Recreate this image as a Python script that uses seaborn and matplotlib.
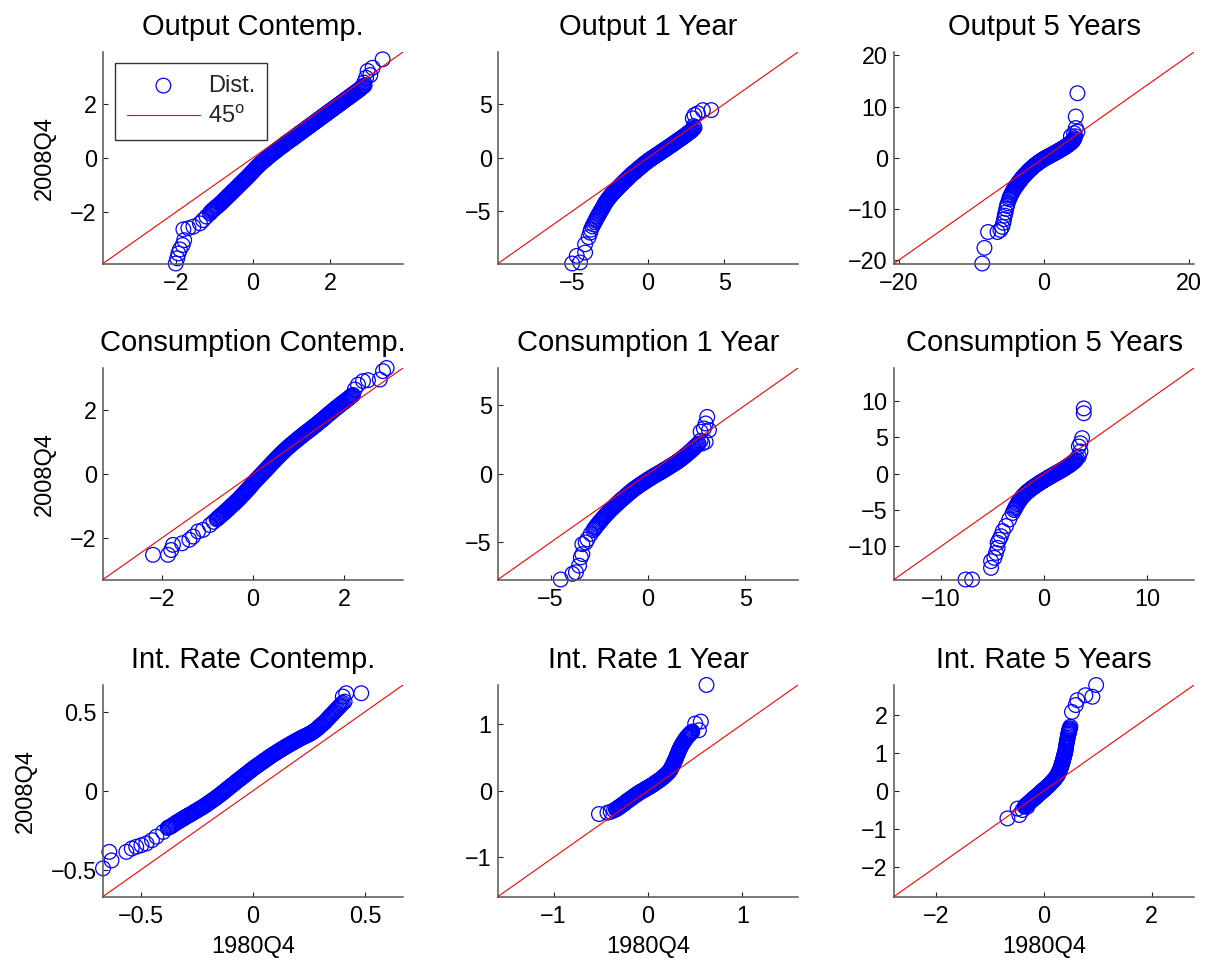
import matplotlib
matplotlib.use("Agg")
import matplotlib.pyplot as plt
import numpy as np
import pandas as pd
import seaborn as sns
from matplotlib.ticker import FuncFormatter, FixedLocator

sns.set_theme(style="white")
plt.rcParams["font.family"] = ["Liberation Sans", "DejaVu Sans"]
plt.rcParams["mathtext.fontset"] = "custom"
plt.rcParams["mathtext.rm"] = "Liberation Sans"
plt.rcParams["axes.unicode_minus"] = True

titles = ["Output Contemp.", "Output 1 Year", "Output 5 Years",
          "Consumption Contemp.", "Consumption 1 Year", "Consumption 5 Years",
          "Int. Rate Contemp.", "Int. Rate 1 Year", "Int. Rate 5 Years"]
x_label = "1980Q4"
y_label = "2008Q4"

# ---- Output, contemporaneous: quantiles of 1980Q4 (x) vs 2008Q4 (y) ----
out_c_x = [-2.01, -1.97, -1.94, -1.9, -1.83, -1.79, -1.81, -1.68, -1.55, -1.38, -1.3, -1.21, -1.12,
           -1.100, -1.075, -1.050, -1.025, -1.000, -0.975, -0.950, -0.925, -0.900, -0.875, -0.850, -0.825,
           -0.800, -0.775, -0.750, -0.725, -0.700, -0.675, -0.650, -0.625, -0.600, -0.575, -0.550, -0.525,
           -0.500, -0.475, -0.450, -0.425, -0.400, -0.375, -0.350, -0.325, -0.300, -0.275, -0.250, -0.225,
           -0.200, -0.175, -0.150, -0.125, -0.100, -0.075, -0.050, -0.025, 0.000, 0.025, 0.050, 0.075,
           0.100, 0.125, 0.150, 0.175, 0.200, 0.225, 0.250, 0.275, 0.300, 0.325, 0.350, 0.375,
           0.400, 0.425, 0.450, 0.475, 0.500, 0.525, 0.550, 0.575, 0.600, 0.625, 0.650, 0.675,
           0.700, 0.725, 0.750, 0.775, 0.800, 0.825, 0.850, 0.875, 0.900, 0.925, 0.950, 0.975,
           1.000, 1.025, 1.050, 1.075, 1.100, 1.125, 1.150, 1.175, 1.200, 1.225, 1.250, 1.275,
           1.300, 1.325, 1.350, 1.375, 1.400, 1.425, 1.450, 1.475, 1.500, 1.525, 1.550, 1.575,
           1.600, 1.625, 1.650, 1.675, 1.700, 1.725, 1.750, 1.775, 1.800, 1.825, 1.850, 1.875,
           1.900, 1.925, 1.950, 1.975, 2.000, 2.025, 2.050, 2.075, 2.100, 2.125, 2.150, 2.175,
           2.200, 2.225, 2.250, 2.275, 2.300, 2.325, 2.350, 2.375, 2.400, 2.425, 2.450, 2.475,
           2.500, 2.525, 2.550, 2.575, 2.600, 2.625, 2.650, 2.675, 2.700, 2.725, 2.750, 2.775,
           2.800, 2.825, 2.850, 2.875, 2.900,
           2.89, 2.94, 3.05, 2.98, 3.11, 3.37]
out_c_y = [-3.9, -3.71, -3.53, -3.38, -3.22, -3.04, -2.64, -2.6, -2.54, -2.42, -2.3, -2.17, -2.05,
           -2.000, -1.965, -1.930, -1.905, -1.880, -1.845, -1.810, -1.785, -1.760, -1.725, -1.690, -1.660,
           -1.630, -1.595, -1.560, -1.525, -1.490, -1.455, -1.420, -1.385, -1.350, -1.315, -1.280, -1.245,
           -1.210, -1.175, -1.140, -1.105, -1.070, -1.035, -1.000, -0.965, -0.930, -0.895, -0.860, -0.825,
           -0.790, -0.755, -0.720, -0.685, -0.650, -0.610, -0.570, -0.535, -0.500, -0.460, -0.420, -0.385,
           -0.350, -0.315, -0.280, -0.245, -0.210, -0.180, -0.150, -0.120, -0.090, -0.060, -0.030, 0.000,
           0.030, 0.060, 0.090, 0.120, 0.150, 0.175, 0.200, 0.230, 0.260, 0.285, 0.310, 0.340,
           0.370, 0.395, 0.420, 0.445, 0.470, 0.500, 0.530, 0.555, 0.580, 0.605, 0.630, 0.655,
           0.680, 0.706, 0.732, 0.758, 0.784, 0.810, 0.836, 0.862, 0.888, 0.914, 0.940, 0.966,
           0.992, 1.018, 1.044, 1.070, 1.096, 1.122, 1.148, 1.174, 1.200, 1.226, 1.252, 1.278,
           1.304, 1.330, 1.356, 1.382, 1.408, 1.434, 1.460, 1.486, 1.512, 1.538, 1.564, 1.590,
           1.616, 1.642, 1.668, 1.694, 1.720, 1.746, 1.772, 1.798, 1.824, 1.850, 1.876, 1.902,
           1.928, 1.954, 1.980, 2.006, 2.032, 2.058, 2.084, 2.110, 2.136, 2.162, 2.188, 2.214,
           2.240, 2.266, 2.292, 2.318, 2.344, 2.370, 2.396, 2.422, 2.448, 2.474, 2.500, 2.530,
           2.560, 2.590, 2.620, 2.645, 2.670,
           2.77, 2.95, 3.05, 3.2, 3.32, 3.63]

# ---- Output, 1 year ----
out_1_x = [-4.98, -4.46, -4.68, -4.13, -4.13, -3.9, -3.8, -3.75, -3.65, -3.58,
           -3.50, -3.45, -3.40, -3.35, -3.30, -3.25, -3.20, -3.15, -3.10, -3.05, -3.00, -2.95,
           -2.90, -2.85, -2.80, -2.75, -2.70, -2.65, -2.60, -2.55, -2.50, -2.45, -2.40, -2.35,
           -2.30, -2.25, -2.20, -2.15, -2.10, -2.05, -2.00, -1.95, -1.90, -1.85, -1.80, -1.75,
           -1.70, -1.65, -1.60, -1.55, -1.50, -1.45, -1.40, -1.35, -1.30, -1.25, -1.20, -1.15,
           -1.10, -1.05, -1.00, -0.95, -0.90, -0.85, -0.80, -0.75, -0.70, -0.65, -0.60, -0.55,
           -0.50, -0.45, -0.40, -0.35, -0.30, -0.25, -0.20, -0.15, -0.10, -0.05, 0.00, 0.05,
           0.10, 0.15, 0.20, 0.25, 0.30, 0.35, 0.40, 0.45, 0.50, 0.55, 0.60, 0.65,
           0.70, 0.75, 0.80, 0.85, 0.90, 0.95, 1.00, 1.05, 1.10, 1.15, 1.20, 1.25,
           1.30, 1.35, 1.40, 1.45, 1.50, 1.55, 1.60, 1.65, 1.70, 1.75, 1.80, 1.85,
           1.90, 1.95, 2.00, 2.05, 2.10, 2.15, 2.20, 2.25, 2.30, 2.35, 2.40, 2.45,
           2.50, 2.55, 2.60, 2.65, 2.70, 2.75, 2.80, 2.85, 2.90,
           2.95, 3.05, 3.0, 2.94, 3.05, 3.27, 3.6, 4.15]
out_1_y = [-9.85, -9.75, -9.14, -8.83, -8.06, -7.4, -6.98, -6.7, -6.4, -6.2,
           -6.000, -5.850, -5.700, -5.575, -5.450, -5.325, -5.200, -5.075, -4.950, -4.835, -4.720, -4.585,
           -4.450, -4.325, -4.200, -4.100, -4.000, -3.900, -3.800, -3.710, -3.620, -3.535, -3.450, -3.375,
           -3.300, -3.225, -3.150, -3.075, -3.000, -2.925, -2.850, -2.775, -2.700, -2.630, -2.560, -2.490,
           -2.420, -2.350, -2.280, -2.210, -2.140, -2.070, -2.000, -1.930, -1.860, -1.795, -1.730, -1.665,
           -1.600, -1.535, -1.470, -1.410, -1.350, -1.290, -1.230, -1.170, -1.110, -1.050, -0.990, -0.930,
           -0.870, -0.810, -0.750, -0.690, -0.630, -0.575, -0.520, -0.465, -0.410, -0.355, -0.300, -0.250,
           -0.200, -0.150, -0.100, -0.050, 0.000, 0.045, 0.090, 0.140, 0.190, 0.235, 0.280, 0.330,
           0.380, 0.425, 0.470, 0.520, 0.570, 0.615, 0.660, 0.710, 0.760, 0.810, 0.860, 0.905,
           0.950, 1.000, 1.050, 1.095, 1.140, 1.190, 1.240, 1.290, 1.340, 1.390, 1.440, 1.490,
           1.540, 1.590, 1.640, 1.690, 1.740, 1.790, 1.840, 1.890, 1.940, 1.990, 2.040, 2.095,
           2.150, 2.205, 2.260, 2.310, 2.360, 2.415, 2.470, 2.525, 2.580,
           2.7, 2.8, 2.95, 3.67, 3.98, 4.14, 4.44, 4.44]

# ---- Output, 5 years ----
out_5_x = [-8.5, -8.2, -7.7, -6.4, -6.0, -5.75, -5.6, -5.5, -5.4, -5.3, -5.2, -5.1, -5.0,
           -4.8, -4.7, -4.6, -4.5, -4.4, -4.3, -4.2, -4.1, -4.0, -3.9, -3.8, -3.7, -3.6, -3.5,
           -3.4, -3.3, -3.2, -3.1, -3.0, -2.9, -2.8, -2.7, -2.6, -2.5, -2.4, -2.3, -2.2, -2.1,
           -2.0, -1.9, -1.8, -1.7, -1.6, -1.5, -1.4, -1.3, -1.2, -1.1, -1.0, -0.9, -0.8, -0.7,
           -0.6, -0.5, -0.4, -0.3, -0.2, -0.1, 0.0, 0.1, 0.2, 0.3, 0.4, 0.5, 0.6, 0.7, 0.8, 0.9,
           1.0, 1.1, 1.2, 1.3, 1.4, 1.5, 1.6, 1.7, 1.8, 1.9, 2.0, 2.1, 2.2, 2.3, 2.4, 2.5, 2.6,
           2.7, 2.8, 2.9, 3.0, 3.1, 3.2, 3.3, 3.4, 3.5, 3.6, 3.7, 3.8, 3.9, 4.0, 4.1, 4.2,
           4.3, 3.7, 4.14, 4.6, 4.37, 4.37, 4.6]
out_5_y = [-20.65, -17.6, -14.5, -14.5, -14.1, -13.5, -12.7, -12.0, -11.3, -10.7, -10.0, -9.4, -8.9,
           -8.100, -7.750, -7.400, -7.100, -6.800, -6.550, -6.300, -6.075, -5.850, -5.650, -5.450, -5.250,
           -5.050, -4.850, -4.650, -4.475, -4.300, -4.125, -3.950, -3.775, -3.600, -3.450, -3.300, -3.150,
           -3.000, -2.850, -2.700, -2.560, -2.420, -2.285, -2.150, -2.025, -1.900, -1.775, -1.650, -1.535,
           -1.420, -1.310, -1.200, -1.090, -0.980, -0.880, -0.780, -0.680, -0.580, -0.490, -0.400, -0.310,
           -0.220, -0.140, -0.060, 0.015, 0.090, 0.165, 0.240, 0.320, 0.400, 0.475, 0.550, 0.625,
           0.700, 0.775, 0.850, 0.930, 1.010, 1.090, 1.170, 1.250, 1.330, 1.415, 1.500, 1.585,
           1.670, 1.755, 1.840, 1.930, 2.020, 2.110, 2.200, 2.300, 2.400, 2.505, 2.610, 2.720,
           2.830, 2.945, 3.060, 3.200, 3.350, 3.570, 3.800,
           4.2, 4.2, 4.8, 5.1, 5.8, 8.05, 12.6]

# ---- Consumption, contemporaneous ----
con_c_x = [-2.2, -1.87, -1.8, -1.76, -1.56, -1.4, -1.32, -1.21, -1.1, -0.95, -0.87,
           -0.80, -0.78, -0.76, -0.74, -0.72, -0.70, -0.68, -0.66, -0.64, -0.62, -0.60, -0.58,
           -0.56, -0.54, -0.52, -0.50, -0.48, -0.46, -0.44, -0.42, -0.40, -0.38, -0.36, -0.34,
           -0.32, -0.30, -0.28, -0.26, -0.24, -0.22, -0.20, -0.18, -0.16, -0.14, -0.12, -0.10,
           -0.08, -0.06, -0.04, -0.02, 0.00, 0.02, 0.04, 0.06, 0.08, 0.10, 0.12, 0.14,
           0.16, 0.18, 0.20, 0.22, 0.24, 0.26, 0.28, 0.30, 0.32, 0.34, 0.36, 0.38,
           0.40, 0.42, 0.44, 0.46, 0.48, 0.50, 0.52, 0.54, 0.56, 0.58, 0.60, 0.62,
           0.64, 0.66, 0.68, 0.70, 0.72, 0.74, 0.76, 0.78, 0.80, 0.82, 0.84, 0.86,
           0.88, 0.90, 0.92, 0.94, 0.96, 0.98, 1.00, 1.02, 1.04, 1.06, 1.08, 1.10,
           1.12, 1.14, 1.16, 1.18, 1.20, 1.22, 1.24, 1.26, 1.28, 1.30, 1.32, 1.34,
           1.36, 1.38, 1.40, 1.42, 1.44, 1.46, 1.48, 1.50, 1.52, 1.54, 1.56, 1.58,
           1.60, 1.62, 1.64, 1.66, 1.68, 1.70, 1.72, 1.74, 1.76, 1.78, 1.80, 1.82,
           1.84, 1.86, 1.88, 1.90, 1.92, 1.94, 1.96, 1.98, 2.00, 2.02, 2.04, 2.06,
           2.08, 2.10, 2.12, 2.14, 2.16, 2.18, 2.20,
           2.24, 2.31, 2.42, 2.53, 2.79, 2.86, 2.94]
con_c_y = [-2.53, -2.53, -2.38, -2.22, -2.17, -2.06, -1.96, -1.8, -1.75, -1.6, -1.5,
           -1.420, -1.395, -1.370, -1.345, -1.320, -1.295, -1.270, -1.245, -1.220, -1.195, -1.170, -1.145,
           -1.120, -1.095, -1.070, -1.040, -1.010, -0.985, -0.960, -0.935, -0.910, -0.880, -0.850, -0.825,
           -0.800, -0.770, -0.740, -0.710, -0.680, -0.650, -0.620, -0.590, -0.560, -0.530, -0.500, -0.470,
           -0.440, -0.405, -0.370, -0.335, -0.300, -0.270, -0.240, -0.210, -0.180, -0.150, -0.120, -0.090,
           -0.060, -0.030, 0.000, 0.030, 0.060, 0.090, 0.120, 0.150, 0.180, 0.210, 0.240, 0.270,
           0.300, 0.330, 0.360, 0.390, 0.420, 0.450, 0.480, 0.510, 0.540, 0.570, 0.600, 0.625,
           0.650, 0.675, 0.700, 0.730, 0.760, 0.785, 0.810, 0.835, 0.860, 0.885, 0.910, 0.935,
           0.960, 0.980, 1.000, 1.025, 1.050, 1.075, 1.100, 1.120, 1.140, 1.165, 1.190, 1.210,
           1.230, 1.255, 1.280, 1.300, 1.320, 1.340, 1.360, 1.385, 1.410, 1.430, 1.450, 1.475,
           1.500, 1.520, 1.540, 1.565, 1.590, 1.615, 1.640, 1.660, 1.680, 1.705, 1.730, 1.755,
           1.780, 1.805, 1.830, 1.855, 1.880, 1.900, 1.920, 1.945, 1.970, 1.995, 2.020, 2.040,
           2.060, 2.085, 2.110, 2.130, 2.150, 2.175, 2.200, 2.220, 2.240, 2.260, 2.280, 2.305,
           2.330, 2.350, 2.370, 2.395, 2.420, 2.440, 2.460,
           2.63, 2.78, 2.89, 2.92, 2.94, 3.2, 3.3]

# ---- Consumption, 1 year ----
con_1_x = [-4.48, -3.88, -3.7, -3.54, -3.45, -3.37, -3.37, -3.2, -3.11, -2.94,
           -2.80, -2.75, -2.70, -2.65, -2.60, -2.55, -2.50, -2.45, -2.40, -2.35, -2.30, -2.25,
           -2.20, -2.15, -2.10, -2.05, -2.00, -1.95, -1.90, -1.85, -1.80, -1.75, -1.70, -1.65,
           -1.60, -1.55, -1.50, -1.45, -1.40, -1.35, -1.30, -1.25, -1.20, -1.15, -1.10, -1.05,
           -1.00, -0.95, -0.90, -0.85, -0.80, -0.75, -0.70, -0.65, -0.60, -0.55, -0.50, -0.45,
           -0.40, -0.35, -0.30, -0.25, -0.20, -0.15, -0.10, -0.05, 0.00, 0.05, 0.10, 0.15,
           0.20, 0.25, 0.30, 0.35, 0.40, 0.45, 0.50, 0.55, 0.60, 0.65, 0.70, 0.75,
           0.80, 0.85, 0.90, 0.95, 1.00, 1.05, 1.10, 1.15, 1.20, 1.25, 1.30, 1.35,
           1.40, 1.45, 1.50, 1.55, 1.60, 1.65, 1.70, 1.75, 1.80, 1.85, 1.90, 1.95,
           2.00, 2.05, 2.10, 2.15, 2.20, 2.25, 2.30, 2.35, 2.40, 2.45, 2.50, 2.55, 2.60,
           2.7, 2.79, 2.96, 2.7, 2.87, 3.13, 2.96, 3.04]
con_1_y = [-7.7, -7.29, -7.17, -6.69, -6.09, -5.85, -5.13, -5.0, -4.77, -4.38,
           -4.100, -4.000, -3.900, -3.810, -3.720, -3.635, -3.550, -3.465, -3.380, -3.300, -3.220, -3.135,
           -3.050, -2.975, -2.900, -2.825, -2.750, -2.675, -2.600, -2.535, -2.470, -2.400, -2.330, -2.265,
           -2.200, -2.135, -2.070, -2.005, -1.940, -1.880, -1.820, -1.760, -1.700, -1.635, -1.570, -1.510,
           -1.450, -1.390, -1.330, -1.270, -1.210, -1.155, -1.100, -1.050, -1.000, -0.950, -0.900, -0.850,
           -0.800, -0.755, -0.710, -0.660, -0.610, -0.565, -0.520, -0.475, -0.430, -0.385, -0.340, -0.295,
           -0.250, -0.205, -0.160, -0.120, -0.080, -0.040, 0.000, 0.040, 0.080, 0.120, 0.160, 0.205,
           0.250, 0.295, 0.340, 0.380, 0.420, 0.465, 0.510, 0.555, 0.600, 0.645, 0.690, 0.735,
           0.780, 0.825, 0.870, 0.920, 0.970, 1.025, 1.080, 1.135, 1.190, 1.250, 1.310, 1.365,
           1.420, 1.480, 1.540, 1.605, 1.670, 1.735, 1.800, 1.870, 1.940, 2.005, 2.070, 2.135, 2.200,
           2.4, 2.21, 2.33, 3.06, 3.3, 3.18, 3.66, 4.14]

# ---- Consumption, 5 years ----
con_5_x = [-7.62, -6.98, -5.14, -5.14, -4.82, -4.66, -4.5, -4.5, -4.34, -4.18, -4.0, -3.7, -3.38, -3.05,
           -2.900, -2.825, -2.750, -2.675, -2.600, -2.525, -2.450, -2.375, -2.300, -2.225, -2.150, -2.075,
           -2.000, -1.925, -1.850, -1.775, -1.700, -1.625, -1.550, -1.475, -1.400, -1.325, -1.250, -1.175,
           -1.100, -1.025, -0.950, -0.875, -0.800, -0.725, -0.650, -0.575, -0.500, -0.425, -0.350, -0.275,
           -0.200, -0.125, -0.050, 0.025, 0.100, 0.175, 0.250, 0.325, 0.400, 0.475, 0.550, 0.625,
           0.700, 0.775, 0.850, 0.925, 1.000, 1.075, 1.150, 1.225, 1.300, 1.375, 1.450, 1.525,
           1.600, 1.675, 1.750, 1.825, 1.900, 1.975, 2.050, 2.125, 2.200, 2.275, 2.350, 2.425,
           2.500, 2.575, 2.650, 2.725, 2.800, 2.875, 2.950, 3.025, 3.100,
           3.2, 3.38, 3.54, 3.38, 3.54, 3.7, 3.86, 3.86]
con_5_y = [-14.56, -14.56, -12.96, -12.04, -11.58, -10.9, -10.2, -9.5, -9.07, -8.6, -7.9, -7.2, -6.3, -5.4,
           -5.000, -4.800, -4.600, -4.400, -4.200, -4.025, -3.850, -3.700, -3.550, -3.415, -3.280, -3.155,
           -3.030, -2.915, -2.800, -2.700, -2.600, -2.510, -2.420, -2.335, -2.250, -2.165, -2.080, -2.000,
           -1.920, -1.845, -1.770, -1.695, -1.620, -1.550, -1.480, -1.410, -1.340, -1.270, -1.200, -1.135,
           -1.070, -1.005, -0.940, -0.875, -0.810, -0.745, -0.680, -0.620, -0.560, -0.495, -0.430, -0.370,
           -0.310, -0.250, -0.190, -0.130, -0.070, -0.010, 0.050, 0.110, 0.170, 0.230, 0.290, 0.350,
           0.410, 0.475, 0.540, 0.605, 0.670, 0.735, 0.800, 0.870, 0.940, 1.010, 1.080, 1.150,
           1.220, 1.295, 1.370, 1.455, 1.540, 1.630, 1.720, 1.820, 1.920,
           2.15, 2.38, 3.07, 3.75, 4.2, 4.9, 8.33, 9.0]

# ---- Interest rate, contemporaneous ----
int_c_x = [-0.668, -0.63, -0.64, -0.564, -0.54, -0.52, -0.497, -0.475, -0.45, -0.43, -0.4,
           -0.380, -0.375, -0.370, -0.365, -0.360, -0.355, -0.350, -0.345, -0.340, -0.335, -0.330, -0.325,
           -0.320, -0.315, -0.310, -0.305, -0.300, -0.295, -0.290, -0.285, -0.280, -0.275, -0.270, -0.265,
           -0.260, -0.255, -0.250, -0.245, -0.240, -0.235, -0.230, -0.225, -0.220, -0.215, -0.210, -0.205,
           -0.200, -0.195, -0.190, -0.185, -0.180, -0.175, -0.170, -0.165, -0.160, -0.155, -0.150, -0.145,
           -0.140, -0.135, -0.130, -0.125, -0.120, -0.115, -0.110, -0.105, -0.100, -0.095, -0.090, -0.085,
           -0.080, -0.075, -0.070, -0.065, -0.060, -0.055, -0.050, -0.045, -0.040, -0.035, -0.030, -0.025,
           -0.020, -0.015, -0.010, -0.005, 0.000, 0.005, 0.010, 0.015, 0.020, 0.025, 0.030, 0.035,
           0.040, 0.045, 0.050, 0.055, 0.060, 0.065, 0.070, 0.075, 0.080, 0.085, 0.090, 0.095,
           0.100, 0.105, 0.110, 0.115, 0.120, 0.125, 0.130, 0.135, 0.140, 0.145, 0.150, 0.155,
           0.160, 0.165, 0.170, 0.175, 0.180, 0.185, 0.190, 0.195, 0.200, 0.205, 0.210, 0.215,
           0.220, 0.225, 0.230, 0.235, 0.240, 0.245, 0.250, 0.255, 0.260, 0.265, 0.270, 0.275,
           0.280, 0.285, 0.290, 0.295, 0.300, 0.305, 0.310, 0.315, 0.320, 0.325, 0.330, 0.335,
           0.340, 0.345, 0.350, 0.355, 0.360, 0.365, 0.370, 0.375, 0.380, 0.385, 0.390, 0.395, 0.400,
           0.408, 0.4, 0.415, 0.482]
int_c_y = [-0.49, -0.44, -0.386, -0.386, -0.365, -0.354, -0.344, -0.333, -0.312, -0.29, -0.26,
           -0.2350, -0.2315, -0.2280, -0.2240, -0.2200, -0.2150, -0.2100, -0.2050, -0.2000, -0.1960, -0.1920, -0.1875,
           -0.1830, -0.1790, -0.1750, -0.1705, -0.1660, -0.1620, -0.1580, -0.1540, -0.1500, -0.1460, -0.1420, -0.1375,
           -0.1330, -0.1290, -0.1250, -0.1205, -0.1160, -0.1120, -0.1080, -0.1035, -0.0990, -0.0945, -0.0900, -0.0850,
           -0.0800, -0.0750, -0.0700, -0.0650, -0.0600, -0.0550, -0.0500, -0.0450, -0.0400, -0.0345, -0.0290, -0.0235,
           -0.0180, -0.0125, -0.0070, -0.0010, 0.0050, 0.0105, 0.0160, 0.0220, 0.0280, 0.0335, 0.0390, 0.0445,
           0.0500, 0.0560, 0.0620, 0.0675, 0.0730, 0.0785, 0.0840, 0.0895, 0.0950, 0.1005, 0.1060, 0.1115,
           0.1170, 0.1225, 0.1280, 0.1340, 0.1400, 0.1450, 0.1500, 0.1550, 0.1600, 0.1650, 0.1700, 0.1750,
           0.1800, 0.1850, 0.1900, 0.1950, 0.2000, 0.2050, 0.2100, 0.2150, 0.2200, 0.2245, 0.2290, 0.2335,
           0.2380, 0.2425, 0.2470, 0.2515, 0.2560, 0.2605, 0.2650, 0.2690, 0.2730, 0.2775, 0.2820, 0.2860,
           0.2900, 0.2940, 0.2980, 0.3020, 0.3060, 0.3100, 0.3140, 0.3180, 0.3220, 0.3260, 0.3300, 0.3335,
           0.3370, 0.3405, 0.3440, 0.3470, 0.3500, 0.3540, 0.3580, 0.3615, 0.3650, 0.3700, 0.3750, 0.3800,
           0.3850, 0.3910, 0.3970, 0.4035, 0.4100, 0.4160, 0.4220, 0.4285, 0.4350, 0.4425, 0.4500, 0.4575,
           0.4650, 0.4725, 0.4800, 0.4875, 0.4950, 0.5025, 0.5100, 0.5175, 0.5250, 0.5325, 0.5400, 0.5475, 0.5550,
           0.563, 0.595, 0.616, 0.616]

# ---- Interest rate, 1 year ----
int_1_x = [-0.52, -0.43, -0.395, -0.36,
           -0.3400, -0.3325, -0.3250, -0.3175, -0.3100, -0.3025, -0.2950, -0.2875, -0.2800, -0.2725,
           -0.2650, -0.2575, -0.2500, -0.2425, -0.2350, -0.2275, -0.2200, -0.2125, -0.2050, -0.1975,
           -0.1900, -0.1825, -0.1750, -0.1675, -0.1600, -0.1525, -0.1450, -0.1375, -0.1300, -0.1225,
           -0.1150, -0.1075, -0.1000, -0.0925, -0.0850, -0.0775, -0.0700, -0.0625, -0.0550, -0.0475,
           -0.0400, -0.0325, -0.0250, -0.0175, -0.0100, -0.0025, 0.0050, 0.0125, 0.0200, 0.0275,
           0.0350, 0.0425, 0.0500, 0.0575, 0.0650, 0.0725, 0.0800, 0.0875, 0.0950, 0.1025,
           0.1100, 0.1175, 0.1250, 0.1325, 0.1400, 0.1475, 0.1550, 0.1625, 0.1700, 0.1775,
           0.1850, 0.1925, 0.2000, 0.2075, 0.2150, 0.2225, 0.2300, 0.2350, 0.2400, 0.2450,
           0.2500, 0.2550, 0.2600, 0.2650, 0.2700, 0.2750, 0.2800, 0.2850, 0.2900, 0.2950,
           0.3000, 0.3050, 0.3100, 0.3150, 0.3200, 0.3250, 0.3300, 0.3350, 0.3400, 0.3450,
           0.3500, 0.3575, 0.3650, 0.3725, 0.3800, 0.3875, 0.3950, 0.4025, 0.4100, 0.4175,
           0.4250, 0.4325, 0.4400, 0.4475, 0.4550, 0.4625, 0.4700,
           0.5, 0.56, 0.54, 0.62]
int_1_y = [-0.35, -0.33, -0.316, -0.295,
           -0.2800, -0.2725, -0.2650, -0.2575, -0.2500, -0.2425, -0.2350, -0.2275, -0.2200, -0.2125,
           -0.2050, -0.1975, -0.1900, -0.1810, -0.1720, -0.1635, -0.1550, -0.1475, -0.1400, -0.1325,
           -0.1250, -0.1175, -0.1100, -0.1025, -0.0950, -0.0875, -0.0800, -0.0725, -0.0650, -0.0575,
           -0.0500, -0.0425, -0.0350, -0.0285, -0.0220, -0.0160, -0.0100, -0.0040, 0.0020, 0.0085,
           0.0150, 0.0215, 0.0280, 0.0340, 0.0400, 0.0460, 0.0520, 0.0585, 0.0650, 0.0715,
           0.0780, 0.0840, 0.0900, 0.0975, 0.1050, 0.1125, 0.1200, 0.1275, 0.1350, 0.1425,
           0.1500, 0.1575, 0.1650, 0.1725, 0.1800, 0.1885, 0.1970, 0.2060, 0.2150, 0.2250,
           0.2350, 0.2450, 0.2550, 0.2660, 0.2770, 0.2885, 0.3000, 0.3125, 0.3250, 0.3375,
           0.3500, 0.3650, 0.3800, 0.3950, 0.4100, 0.4250, 0.4400, 0.4550, 0.4700, 0.4875,
           0.5050, 0.5225, 0.5400, 0.5575, 0.5750, 0.5925, 0.6100, 0.6250, 0.6400, 0.6550,
           0.6700, 0.6875, 0.7050, 0.7225, 0.7400, 0.7550, 0.7700, 0.7850, 0.8000, 0.8125,
           0.8250, 0.8375, 0.8500, 0.8600, 0.8700, 0.8800, 0.8900,
           1.01, 1.04, 0.91, 1.59]

# ---- Interest rate, 5 years ----
int_5_x = [-0.68, -0.46, -0.49, -0.4, -0.31,
           -0.36, -0.35, -0.34, -0.33, -0.32, -0.31, -0.30, -0.29, -0.28, -0.27, -0.26, -0.25,
           -0.24, -0.23, -0.22, -0.21, -0.20, -0.19, -0.18, -0.17, -0.16, -0.15, -0.14, -0.13,
           -0.12, -0.11, -0.10, -0.09, -0.08, -0.07, -0.06, -0.05, -0.04, -0.03, -0.02, -0.01,
           0.00, 0.01, 0.02, 0.03, 0.04, 0.05, 0.06, 0.07, 0.08, 0.09, 0.10, 0.11,
           0.12, 0.13, 0.14, 0.15, 0.16, 0.17, 0.18, 0.19, 0.20, 0.21, 0.22, 0.23,
           0.24, 0.245, 0.25, 0.255, 0.26, 0.265, 0.27, 0.275, 0.28, 0.285, 0.29, 0.295,
           0.30, 0.305, 0.31, 0.315, 0.32, 0.325, 0.33, 0.335, 0.34, 0.345, 0.35, 0.355,
           0.36, 0.365, 0.37, 0.375, 0.38, 0.385, 0.39, 0.395, 0.40, 0.405, 0.41, 0.415,
           0.42, 0.425, 0.43, 0.435, 0.44, 0.445, 0.45, 0.455, 0.46, 0.465, 0.47, 0.475, 0.48,
           0.46, 0.49, 0.52, 0.59, 0.62, 0.77, 0.9, 0.97]
int_5_y = [-0.73, -0.64, -0.47, -0.51, -0.42,
           -0.4200, -0.4075, -0.3950, -0.3825, -0.3700, -0.3575, -0.3450, -0.3325, -0.3200, -0.3075, -0.2950, -0.2825,
           -0.2700, -0.2575, -0.2450, -0.2325, -0.2200, -0.2075, -0.1950, -0.1825, -0.1700, -0.1575, -0.1450, -0.1325,
           -0.1200, -0.1075, -0.0950, -0.0825, -0.0700, -0.0575, -0.0450, -0.0325, -0.0200, -0.0075, 0.0050, 0.0175,
           0.0300, 0.0425, 0.0550, 0.0675, 0.0800, 0.0925, 0.1050, 0.1175, 0.1300, 0.1450, 0.1600, 0.1750,
           0.1900, 0.2050, 0.2200, 0.2350, 0.2500, 0.2650, 0.2800, 0.2950, 0.3100, 0.3300, 0.3500, 0.3700,
           0.3900, 0.4000, 0.4100, 0.4200, 0.4300, 0.4500, 0.4700, 0.4850, 0.5000, 0.5150, 0.5300, 0.5450,
           0.5600, 0.5825, 0.6050, 0.6275, 0.6500, 0.6725, 0.6950, 0.7175, 0.7400, 0.7650, 0.7900, 0.8150,
           0.8400, 0.8675, 0.8950, 0.9225, 0.9500, 0.9775, 1.0050, 1.0325, 1.0600, 1.1050, 1.1500, 1.2000,
           1.2500, 1.2900, 1.3300, 1.3650, 1.4000, 1.4400, 1.4800, 1.5150, 1.5500, 1.5750, 1.6000, 1.6250, 1.6500,
           1.51, 1.69, 2.08, 2.26, 2.39, 2.52, 2.48, 2.79]

panel_x = [out_c_x, out_1_x, out_5_x, con_c_x, con_1_x, con_5_x, int_c_x, int_1_x, int_5_x]
panel_y = [out_c_y, out_1_y, out_5_y, con_c_y, con_1_y, con_5_y, int_c_y, int_1_y, int_5_y]

x_ticks = [[-2, 0, 2], [-5, 0, 5], [-20, 0, 20],
           [-2, 0, 2], [-5, 0, 5], [-10, 0, 10],
           [-0.5, 0, 0.5], [-1, 0, 1], [-2, 0, 2]]
y_ticks = [[-2, 0, 2], [-5, 0, 5], [-20, -10, 0, 10, 20],
           [-2, 0, 2], [-5, 0, 5], [-10, -5, 0, 5, 10],
           [-0.5, 0, 0.5], [-1, 0, 1], [-2, -1, 0, 1, 2]]

W, H = 1216, 965
fig = plt.figure(figsize=(W / 100, H / 100), dpi=100)

col_left = [103, 498, 894]
row_top = [52, 368, 685]
ax_w, ax_h = 300, 211.5
spine_col = "#555555"
fmt = FuncFormatter(lambda v, pos: f"{v:g}".replace("-", "\u2212"))

for i in range(9):
    r, c = divmod(i, 3)
    ax = fig.add_axes([col_left[c] / W, 1 - (row_top[r] + ax_h) / H, ax_w / W, ax_h / H])
    df = pd.DataFrame({"x": panel_x[i], "y": panel_y[i]})
    lim = float(max(df["x"].abs().max(), df["y"].abs().max()))

    sns.scatterplot(data=df, x="x", y="y", ax=ax, marker="o", s=112,
                    facecolor="none", edgecolor="#0000ff", linewidth=0.9,
                    label="Dist.", legend=False, clip_on=False, zorder=2)
    diag = pd.DataFrame({"x": [-lim, lim], "y": [-lim, lim]})
    sns.lineplot(data=diag, x="x", y="y", ax=ax, color="#ff0000", linewidth=0.8,
                 label=r"45$^{\mathrm{o}}$", legend=False, zorder=3)

    ax.set_xlim(-lim, lim)
    ax.set_ylim(-lim, lim)
    ax.xaxis.set_major_locator(FixedLocator(x_ticks[i]))
    ax.yaxis.set_major_locator(FixedLocator(y_ticks[i]))
    ax.xaxis.set_major_formatter(fmt)
    ax.yaxis.set_major_formatter(fmt)

    for side in ("top", "right"):
        ax.spines[side].set_visible(False)
    for side in ("left", "bottom"):
        ax.spines[side].set_color(spine_col)
        ax.spines[side].set_linewidth(1.1)
    ax.tick_params(axis="both", direction="in", length=3.5, width=0.8,
                   color="#222222", labelsize=16.8, labelcolor="black")
    ax.tick_params(axis="x", pad=6, bottom=True)
    ax.tick_params(axis="y", pad=4.5, left=True)
    ax.set_title(titles[i], fontsize=21, pad=12.5, color="black")

    ax.set_xlabel(x_label if r == 2 else "", fontsize=17, labelpad=6, color="black")
    ax.set_ylabel(y_label if c == 0 else "", fontsize=17, labelpad=10, color="black")

    if i == 0:
        leg = ax.legend(loc="upper left", bbox_to_anchor=(0.04, 0.948), borderaxespad=0,
                        fontsize=17, frameon=True, fancybox=False, edgecolor="black",
                        handlelength=3.1, handletextpad=0.35, borderpad=0.5,
                        labelspacing=0.35, markerscale=1.0)
        leg.get_frame().set_linewidth(1.0)
        leg.set_zorder(5)

fig.savefig("out.png", dpi=100, facecolor="white")
